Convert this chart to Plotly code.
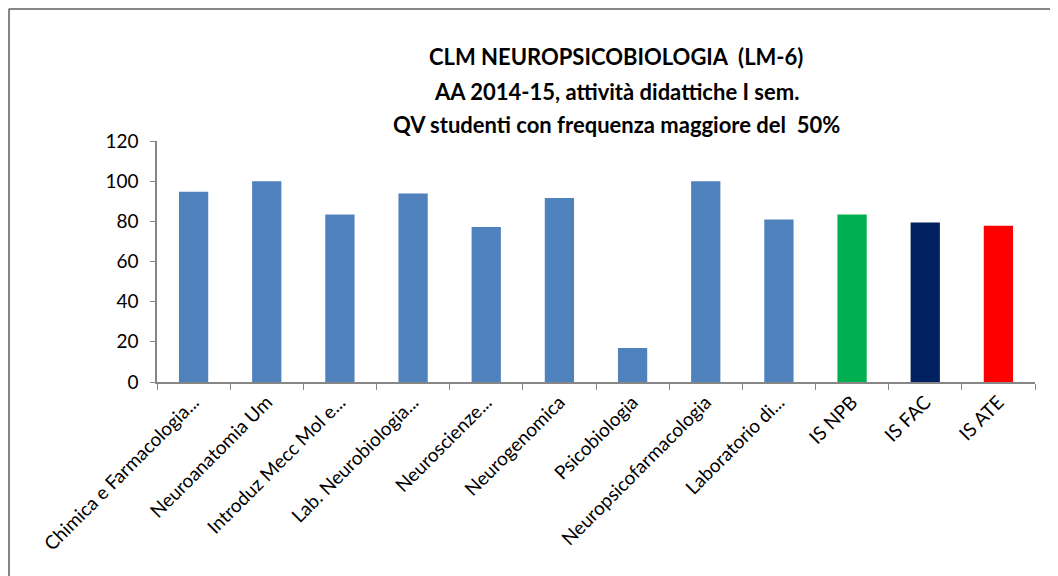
import plotly.graph_objects as go

categories = ["Chimica e Farmacologia...", "Neuroanatomia Um", "Introduz Mecc Mol e...",
              "Lab. Neurobiologia...", "Neuroscienze...", "Neurogenomica", "Psicobiologia",
              "Neuropsicofarmacologia", "Laboratorio di...", "IS NPB", "IS FAC", "IS ATE"]
values = [94.7, 100, 83.4, 93.9, 77.2, 91.6, 16.9, 100, 80.9, 83.4, 79.4, 77.8]
bar_colors = ["#4F81BD"] * 9 + ["#00B050", "#002060", "#FF0000"]
title_lines = ["CLM NEUROPSICOBIOLOGIA  (LM-6)",
               "AA 2014-15, attività didattiche I sem.",
               "QV studenti con frequenza maggiore del  50%"]
yticks = [0, 20, 40, 60, 80, 100, 120]

FONT = "Lato, Open Sans, sans-serif"
OFF = 8  # page body margin offset

fig = go.Figure()
fig.add_trace(go.Bar(
    x=categories, y=values,
    marker=dict(color=bar_colors, line=dict(width=0)),
    width=0.4,
))

W, H = 1058, 576
# target page pixels: plot x 157..1035, y 141..382
L, T = 157 - OFF, 141 - OFF
R = W - (1035 - OFF)
B = H - (382 - OFF)
pw, ph = W - L - R, H - T - B

def px(x):
    return (x - OFF - L) / pw

def py(y):
    return (H - B - (y - OFF)) / ph

# outer frame (top and left borders)
fig.add_shape(type="line", xref="paper", yref="paper",
              x0=px(8.8), x1=px(1070), y0=py(8.8), y1=py(8.8),
              line=dict(color="#868686", width=2.5))
fig.add_shape(type="line", xref="paper", yref="paper",
              x0=px(8.8), x1=px(8.8), y0=py(8.8), y1=py(600),
              line=dict(color="#868686", width=2.5))

for t, yc in zip(title_lines, [57, 91, 124]):
    fig.add_annotation(text="<b>" + t + "</b>", xref="paper", yref="paper",
                       x=px(616), y=py(yc), xanchor="center", yanchor="middle",
                       showarrow=False, font=dict(family=FONT, size=22, color="#000000"))

fig.update_layout(
    width=W, height=H,
    margin=dict(l=L, r=R, t=T, b=B, autoexpand=False),
    paper_bgcolor="white", plot_bgcolor="white",
    showlegend=False,
    font=dict(family=FONT, color="#000000"),
    xaxis=dict(
        type="category", showgrid=False, showline=True, linecolor="#868686", linewidth=1.5,
        ticks="outside", tickson="boundaries", ticklen=6, tickcolor="#868686",
        tickangle=-45, tickfont=dict(family=FONT, size=19, color="#000000"),
        range=[-0.5, 11.5],
    ),
    yaxis=dict(
        range=[0, 120], tickvals=yticks, showgrid=False, showline=True,
        linecolor="#868686", linewidth=1.5, ticks="outside", ticklen=5,
        tickcolor="#868686", tickfont=dict(family=FONT, size=19, color="#000000"),
        ticklabelstandoff=8, zeroline=False,
    ),
)

fig.write_html("out.html")
